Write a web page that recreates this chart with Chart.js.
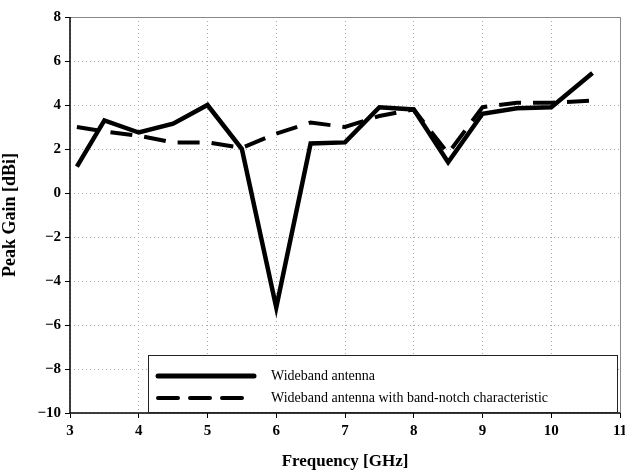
<!DOCTYPE html>
<html>
<head>
<meta charset="utf-8">
<script src="https://cdn.jsdelivr.net/npm/chart.js@4.4.1/dist/chart.umd.min.js"></script>
<style>
  html, body { margin: 0; padding: 0; background: #fff; }
  #wrap { width: 625px; height: 472px; }
</style>
</head>
<body>
<div id="wrap"><canvas id="gain"></canvas></div>
<script>
var freqs = [3.1, 3.5, 4, 4.5, 5, 5.5, 6, 6.5, 7, 7.5, 8, 8.5, 9, 9.5, 10, 10.6];
var wideband = [1.2, 3.3, 2.75, 3.15, 4.0, 2.0, -5.2, 2.25, 2.3, 3.9, 3.8, 1.4, 3.6, 3.85, 3.9, 5.45];
var notched = [3.0, 2.8, 2.6, 2.3, 2.3, 2.05, 2.7, 3.2, 3.0, 3.5, 3.8, 1.8, 3.9, 4.1, 4.1, 4.2];
var seriesNames = ["Wideband antenna", "Wideband antenna with band-notch characteristic"];

function toPoints(vals){
    var pts = [];
    for (var i = 0; i < freqs.length; i++) {
        pts.push({x: freqs[i], y: vals[i]});
    }
    return pts;
}

var serif = "'Liberation Serif', 'DejaVu Serif', serif";

// axes, frame on top/right and the boxed legend in the lower right
var boxLegend = {
    id: "boxLegend",
    afterDraw: function(chart){
        var ctx = chart.ctx;
        var a = chart.chartArea;
        ctx.save();
        ctx.setLineDash([]);
        ctx.strokeStyle = "#888";
        ctx.lineWidth = 1;
        ctx.beginPath();
        ctx.moveTo(a.left, a.top + 0.5);
        ctx.lineTo(a.right + 0.5, a.top + 0.5);
        ctx.lineTo(a.right + 0.5, a.bottom);
        ctx.stroke();

        ctx.strokeStyle = "#000";
        ctx.lineWidth = 1.5;
        ctx.beginPath();
        ctx.moveTo(a.left, a.top);
        ctx.lineTo(a.left, a.bottom);
        ctx.lineTo(a.right, a.bottom);
        ctx.stroke();

        var x0 = a.left + 78, y0 = a.bottom - 58;
        ctx.fillStyle = "#fff";
        ctx.fillRect(x0, y0, a.right - x0 - 2, 58);
        ctx.strokeStyle = "#222";
        ctx.lineWidth = 1;
        ctx.strokeRect(x0 + 0.5, y0 + 0.5, a.right - x0 - 3, 57);

        var sets = chart.data.datasets;
        for (var i = 0; i < sets.length; i++) {
            var yy = y0 + 21 + i * 22;
            ctx.strokeStyle = "#000";
            ctx.lineWidth = i === 0 ? 5 : 4;
            ctx.setLineDash(i === 0 ? [] : [20, 12]);
            ctx.lineCap = "round";
            ctx.beginPath();
            ctx.moveTo(x0 + 10, yy);
            ctx.lineTo(x0 + 106, yy);
            ctx.stroke();
            ctx.setLineDash([]);
            ctx.fillStyle = "#000";
            ctx.font = "14px " + serif;
            ctx.textBaseline = "middle";
            ctx.fillText(sets[i].label, x0 + 123, yy);
        }
        ctx.restore();
    }
};

var ctx = document.getElementById("gain").getContext("2d");
new Chart(ctx, {
    type: "scatter",
    data: {
        datasets: [
            {
                label: seriesNames[0],
                data: toPoints(wideband),
                showLine: true,
                borderColor: "#000",
                borderWidth: 4.5,
                pointRadius: 0,
                tension: 0
            },
            {
                label: seriesNames[1],
                data: toPoints(notched),
                showLine: true,
                borderColor: "#000",
                borderWidth: 4,
                borderDash: [22, 12],
                pointRadius: 0,
                tension: 0
            }
        ]
    },
    options: {
        responsive: true,
        maintainAspectRatio: false,
        animation: false,
        layout: {padding: {left: 0, right: 5, top: 17, bottom: 0}},
        plugins: {
            legend: {display: false},
            tooltip: {enabled: false}
        },
        scales: {
            x: {
                type: "linear",
                min: 3,
                max: 11,
                ticks: {
                    stepSize: 1,
                    color: "#000",
                    padding: 4,
                    font: {family: serif, size: 15, weight: "bold"}
                },
                grid: {
                    color: "#aaa",
                    tickBorderDash: [],
                    tickColor: "#000",
                    tickLength: 5
                },
                border: {display: false, dash: [1, 3]},
                title: {
                    display: true,
                    text: "Frequency [GHz]",
                    color: "#000",
                    padding: {top: 4, bottom: 0},
                    font: {family: serif, size: 17, weight: "bold"}
                },
                afterFit: function(s){
                    s.height = 59;
                    s.paddingLeft = 0;
                    s.paddingRight = 0;
                }
            },
            y: {
                min: -10,
                max: 8,
                ticks: {
                    stepSize: 2,
                    color: "#000",
                    padding: 4,
                    font: {family: serif, size: 15, weight: "bold"},
                    callback: function(v){ return v < 0 ? "\u2212" + Math.abs(v) : v; }
                },
                grid: {
                    color: "#aaa",
                    tickBorderDash: [],
                    tickColor: "#000",
                    tickLength: 5
                },
                border: {display: false, dash: [1, 3]},
                title: {
                    display: true,
                    text: "Peak Gain [dBi]",
                    color: "#000",
                    padding: {top: 0, bottom: 6},
                    font: {family: serif, size: 18, weight: "bold"}
                },
                afterFit: function(s){
                    s.width = 70;
                    s.paddingTop = 0;
                    s.paddingBottom = 0;
                }
            }
        }
    },
    plugins: [boxLegend]
});
</script>
</body>
</html>
